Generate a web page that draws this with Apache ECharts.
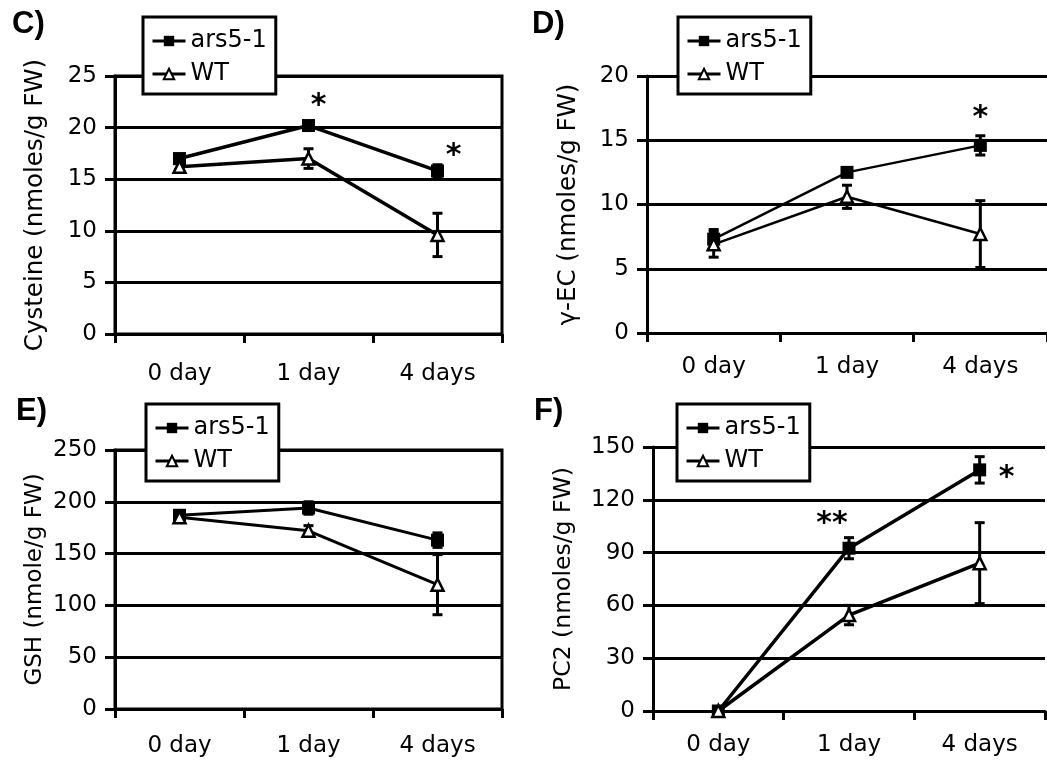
<!DOCTYPE html>
<html>
<head>
<meta charset="utf-8">
<script src="https://cdn.jsdelivr.net/npm/echarts@6/dist/echarts.min.js"></script>
<style>
  html, body { margin: 0; padding: 0; background: #fff; }
  #chart { width: 1047px; height: 764px; }
</style>
</head>
<body>
<div id="chart"></div>
<script>
'use strict';

// x categories, same for every panel
var days = ['0 day', '1 day', '4 days'];

// C) Cysteine
var arsC = [17.0, 20.2, 15.8];
var arsErrC = [0.4, 0.3, 0.6];
var wtC = [16.2, 17.0, 9.6];
var wtErrC = [0.3, 0.95, 2.1];
var starsC = [[1, 22.7, '*'], [2, 17.8, '*']];
var starDxC = [10, 16];

// D) gamma-EC
var arsD = [7.3, 12.5, 14.6];
var arsErrD = [0.75, 0.2, 0.75];
var wtD = [6.9, 10.6, 7.7];
var wtErrD = [1.0, 0.9, 2.6];
var starsD = [[2, 17.2, '*']];
var starDxD = [0];

// E) GSH
var arsE = [187, 194, 163];
var arsErrE = [4, 6, 7];
var wtE = [185, 172, 120];
var wtErrE = [3, 5, 29];
var starsE = [];
var starDxE = [];

// F) PC2
var arsF = [0, 92.5, 137];
var arsErrF = [0, 6, 7.5];
var wtF = [0, 54.5, 84];
var wtErrF = [0, 5.5, 23];
var starsF = [[1, 109.7, '**'], [2, 135.8, '*']];
var starDxF = [-17, 27];

// the source text is a wide sans, DejaVu fits its proportions best
var FONT = "'DejaVu Sans', sans-serif";
var BOLD = "'Liberation Sans', Arial, sans-serif";

function errBars(vals, errs) {
    return vals.map(function (v, i) {
        return [i, v - errs[i], v + errs[i]];
    });
}

function renderErr(params, api) {
    var x = api.value(0);
    var top = api.coord([x, api.value(2)]);
    var bot = api.coord([x, api.value(1)]);
    var w = 5;
    var st = { stroke: '#000', lineWidth: 3 };
    return {
        type: 'group',
        children: [
            { type: 'line', shape: { x1: top[0], y1: top[1], x2: bot[0], y2: bot[1] }, style: st },
            { type: 'line', shape: { x1: top[0] - w, y1: top[1], x2: top[0] + w, y2: top[1] }, style: st },
            { type: 'line', shape: { x1: bot[0] - w, y1: bot[1], x2: bot[0] + w, y2: bot[1] }, style: st }
        ]
    };
}

var grids = [];
var xAxes = [];
var yAxes = [];
var series = [];
var legends = [];
var titles = [];

function addPanel(p) {
    var k = grids.length;
    grids.push({
        left: p.grid[0], top: p.grid[1], width: p.grid[2], height: p.grid[3],
        show: p.border, borderColor: '#000', borderWidth: 3, backgroundColor: 'transparent',
        containLabel: false, outerBoundsMode: 'none'
    });
    xAxes.push({
        type: 'category', gridIndex: k, data: days, boundaryGap: true,
        axisLine: { show: true, lineStyle: { color: '#000', width: 3 } },
        axisTick: { show: true, interval: 0, length: 9, lineStyle: { color: '#000', width: 3 } },
        axisLabel: { color: '#000', fontFamily: FONT, fontSize: 23, margin: p.xMargin, interval: 0 },
        splitLine: { show: false }
    });
    yAxes.push({
        type: 'value', gridIndex: k, min: 0, max: p.max, interval: p.step,
        name: p.name, nameLocation: 'middle', nameGap: p.nameGap, nameRotate: 90,
        nameTextStyle: { color: '#000', fontFamily: FONT, fontSize: p.nameSize },
        axisLine: { show: true, lineStyle: { color: '#000', width: 3 } },
        axisTick: { show: true, length: 10, lineStyle: { color: '#000', width: 3 } },
        axisLabel: { color: '#000', fontFamily: FONT, fontSize: 23, margin: 18 },
        splitLine: { show: true, lineStyle: { color: '#000', width: 3 } }
    });
    series.push({
        type: 'custom', name: 'errA' + k, xAxisIndex: k, yAxisIndex: k, z: 1,
        renderItem: renderErr, data: errBars(p.ars, p.arsErr), silent: true
    }, {
        type: 'custom', name: 'errW' + k, xAxisIndex: k, yAxisIndex: k, z: 1,
        renderItem: renderErr, data: errBars(p.wt, p.wtErr), silent: true
    }, {
        type: 'line', name: 'ars5-1', xAxisIndex: k, yAxisIndex: k, data: p.ars,
        symbol: 'rect', symbolSize: 13, z: 3,
        lineStyle: { color: '#000', width: p.lw },
        itemStyle: { color: '#000', borderColor: '#000', borderWidth: 0 }
    }, {
        type: 'line', name: 'WT', xAxisIndex: k, yAxisIndex: k, data: p.wt,
        symbol: 'triangle', symbolSize: 12, z: 4,
        lineStyle: { color: '#000', width: p.lw },
        itemStyle: { color: '#fff', borderColor: '#000', borderWidth: 2.5 }
    }, {
        type: 'scatter', name: 'stars' + k, xAxisIndex: k, yAxisIndex: k, z: 5,
        symbolSize: 1, itemStyle: { color: 'rgba(0,0,0,0)' }, silent: true,
        data: p.stars.map(function (s, i) {
            return {
                value: s,
                label: { offset: [p.starDx[i], 6] }
            };
        }),
        label: {
            show: true, position: 'inside', color: '#000', fontFamily: FONT,
            fontSize: 30, fontWeight: 'bold', textBorderWidth: 0, opacity: 1,
            formatter: function (d) { return d.value[2]; }
        }
    });
    legends.push({
        data: ['ars5-1', 'WT'], orient: 'vertical',
        left: p.legend[0], top: p.legend[1],
        padding: [10, 9, 6, 8], itemGap: 5, itemWidth: 33, itemHeight: 13,
        backgroundColor: '#fff', borderColor: '#000', borderWidth: 3, borderRadius: 0,
        lineStyle: { width: 3 },
        textStyle: { color: '#000', fontFamily: FONT, fontSize: 24, lineHeight: 28 },
        selectedMode: false
    });
    titles.push({
        text: p.label, left: p.labelPos[0], top: p.labelPos[1], padding: 0,
        textStyle: { color: '#000', fontFamily: BOLD, fontSize: 31, fontWeight: 'bold' }
    });
}

addPanel({
    label: 'C)', labelPos: [12, 9], grid: [115, 76, 387, 258], border: true,
    max: 25, step: 5, name: 'Cysteine (nmoles/g FW)', nameGap: 67, nameSize: 24.5, xMargin: 29,
    ars: arsC, arsErr: arsErrC, wt: wtC, wtErr: wtErrC, stars: starsC, starDx: starDxC,
    legend: [143, 17], lw: 3.5
});
addPanel({
    label: 'D)', labelPos: [532, 9], grid: [647, 76, 400, 257], border: false,
    max: 20, step: 5, name: '\u03b3-EC (nmoles/g FW)', nameGap: 66, nameSize: 24.5, xMargin: 23,
    ars: arsD, arsErr: arsErrD, wt: wtD, wtErr: wtErrD, stars: starsD, starDx: starDxD,
    legend: [678, 17], lw: 2.5
});
addPanel({
    label: 'E)', labelPos: [16, 396], grid: [115, 450, 387, 259], border: true,
    max: 250, step: 50, name: 'GSH (nmole/g FW)', nameGap: 68, nameSize: 23, xMargin: 26,
    ars: arsE, arsErr: arsErrE, wt: wtE, wtErr: wtErrE, stars: starsE, starDx: starDxE,
    legend: [146, 404], lw: 3
});
addPanel({
    label: 'F)', labelPos: [534, 396], grid: [653, 447, 392, 264], border: false,
    max: 150, step: 30, name: 'PC2 (nmoles/g FW)', nameGap: 77, nameSize: 23.5, xMargin: 23,
    ars: arsF, arsErr: arsErrF, wt: wtF, wtErr: wtErrF, stars: starsF, starDx: starDxF,
    legend: [677, 404], lw: 3.5
});

var chart = echarts.init(document.getElementById('chart'));
chart.setOption({
    animation: false,
    backgroundColor: '#fff',
    title: titles,
    legend: legends,
    grid: grids,
    xAxis: xAxes,
    yAxis: yAxes,
    series: series
});
</script>
</body>
</html>
